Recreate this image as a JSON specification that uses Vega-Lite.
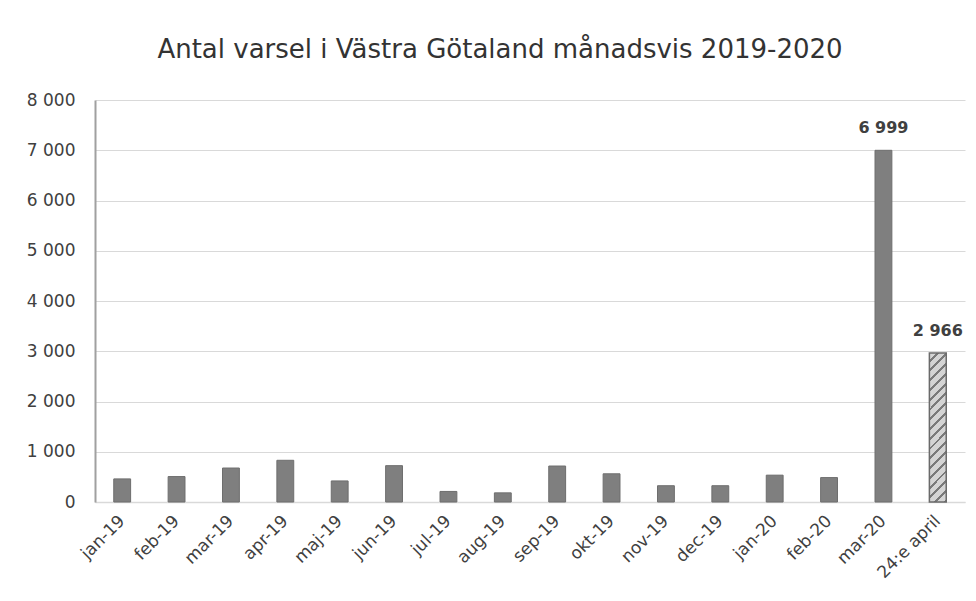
{
  "$schema": "https://vega.github.io/schema/vega-lite/v6.json",
  "autosize": "none",
  "padding": {"left": 95, "top": 100, "right": 11, "bottom": 99},
  "width": 870,
  "height": 402,
  "background": "white",
  "config": {
    "locale": {"number": {"decimal": ",", "thousands": " ", "grouping": [3], "currency": ["", " kr"]}},
    "font": "DejaVu Sans",
    "view": {"stroke": null}
  },
  "title": {
    "text": "Antal varsel i Västra Götaland månadsvis 2019-2020",
    "fontSize": 26,
    "fontWeight": "normal",
    "font": "DejaVu Sans",
    "color": "#333333",
    "anchor": "middle",
    "dx": -30,
    "offset": 28
  },
  "data": {
    "values": [
      {"month": "jan-19", "value": 460, "kind": "full"},
      {"month": "feb-19", "value": 506, "kind": "full"},
      {"month": "mar-19", "value": 676, "kind": "full"},
      {"month": "apr-19", "value": 830, "kind": "full"},
      {"month": "maj-19", "value": 419, "kind": "full"},
      {"month": "jun-19", "value": 723, "kind": "full"},
      {"month": "jul-19", "value": 210, "kind": "full"},
      {"month": "aug-19", "value": 182, "kind": "full"},
      {"month": "sep-19", "value": 716, "kind": "full"},
      {"month": "okt-19", "value": 561, "kind": "full"},
      {"month": "nov-19", "value": 324, "kind": "full"},
      {"month": "dec-19", "value": 324, "kind": "full"},
      {"month": "jan-20", "value": 534, "kind": "full"},
      {"month": "feb-20", "value": 486, "kind": "full"},
      {"month": "mar-20", "value": 6999, "kind": "full", "label": true},
      {"month": "24:e april", "value": 2966, "kind": "partial", "label": true}
    ]
  },
  "encoding": {
    "x": {
      "field": "month",
      "type": "nominal",
      "sort": null,
      "title": null,
      "scale": {"paddingInner": 0.69, "paddingOuter": 0.345},
      "axis": {
        "labelAngle": -45,
        "labelAlign": "right",
        "labelBaseline": "middle",
        "labelFontSize": 17,
        "labelColor": "#404040",
        "labelPadding": 16,
        "ticks": false,
        "domainColor": "#d9d9d9",
        "domainWidth": 1.5
      }
    },
    "y": {
      "field": "value",
      "type": "quantitative",
      "title": null,
      "scale": {"domain": [0, 8000], "nice": false},
      "axis": {
        "values": [0, 1000, 2000, 3000, 4000, 5000, 6000, 7000, 8000],
        "labelExpr": "format(datum.value, ',')",
        "labelFontSize": 17,
        "labelColor": "#404040",
        "labelPadding": 20,
        "ticks": false,
        "domainColor": "#a0a0a0",
        "domainWidth": 2,
        "gridColor": "#d9d9d9",
        "gridWidth": 1.2
      }
    }
  },
  "layer": [
    {
      "transform": [{"filter": "datum.kind === 'full'"}],
      "mark": {"type": "bar", "color": "#7f7f7f", "stroke": "#6e6e6e", "strokeWidth": 1}
    },
    {
      "transform": [{"filter": "datum.kind === 'partial'"}],
      "mark": {
        "type": "bar",
        "stroke": "#6a6a6a",
        "strokeWidth": 1.5,
        "fill": {
          "gradient": "linear",
          "x1": 0, "y1": 0, "x2": 0.1255, "y2": 1.0997,
          "stops": [
            {"offset": 0, "color": "#d4d4d4"}, {"offset": 0.041, "color": "#d4d4d4"}, {"offset": 0.041, "color": "#7a7a7a"}, {"offset": 0.0588, "color": "#7a7a7a"},
            {"offset": 0.0588, "color": "#d4d4d4"}, {"offset": 0.1, "color": "#d4d4d4"}, {"offset": 0.1, "color": "#7a7a7a"}, {"offset": 0.1176, "color": "#7a7a7a"},
            {"offset": 0.1176, "color": "#d4d4d4"}, {"offset": 0.1588, "color": "#d4d4d4"}, {"offset": 0.1588, "color": "#7a7a7a"}, {"offset": 0.1765, "color": "#7a7a7a"},
            {"offset": 0.1765, "color": "#d4d4d4"}, {"offset": 0.2177, "color": "#d4d4d4"}, {"offset": 0.2177, "color": "#7a7a7a"}, {"offset": 0.2353, "color": "#7a7a7a"},
            {"offset": 0.2353, "color": "#d4d4d4"}, {"offset": 0.2765, "color": "#d4d4d4"}, {"offset": 0.2765, "color": "#7a7a7a"}, {"offset": 0.2941, "color": "#7a7a7a"},
            {"offset": 0.2941, "color": "#d4d4d4"}, {"offset": 0.3353, "color": "#d4d4d4"}, {"offset": 0.3353, "color": "#7a7a7a"}, {"offset": 0.3529, "color": "#7a7a7a"},
            {"offset": 0.3529, "color": "#d4d4d4"}, {"offset": 0.3941, "color": "#d4d4d4"}, {"offset": 0.3941, "color": "#7a7a7a"}, {"offset": 0.4118, "color": "#7a7a7a"},
            {"offset": 0.4118, "color": "#d4d4d4"}, {"offset": 0.453, "color": "#d4d4d4"}, {"offset": 0.453, "color": "#7a7a7a"}, {"offset": 0.4706, "color": "#7a7a7a"},
            {"offset": 0.4706, "color": "#d4d4d4"}, {"offset": 0.5118, "color": "#d4d4d4"}, {"offset": 0.5118, "color": "#7a7a7a"}, {"offset": 0.5294, "color": "#7a7a7a"},
            {"offset": 0.5294, "color": "#d4d4d4"}, {"offset": 0.5706, "color": "#d4d4d4"}, {"offset": 0.5706, "color": "#7a7a7a"}, {"offset": 0.5882, "color": "#7a7a7a"},
            {"offset": 0.5882, "color": "#d4d4d4"}, {"offset": 0.6294, "color": "#d4d4d4"}, {"offset": 0.6294, "color": "#7a7a7a"}, {"offset": 0.6471, "color": "#7a7a7a"},
            {"offset": 0.6471, "color": "#d4d4d4"}, {"offset": 0.6883, "color": "#d4d4d4"}, {"offset": 0.6883, "color": "#7a7a7a"}, {"offset": 0.7059, "color": "#7a7a7a"},
            {"offset": 0.7059, "color": "#d4d4d4"}, {"offset": 0.7471, "color": "#d4d4d4"}, {"offset": 0.7471, "color": "#7a7a7a"}, {"offset": 0.7647, "color": "#7a7a7a"},
            {"offset": 0.7647, "color": "#d4d4d4"}, {"offset": 0.8059, "color": "#d4d4d4"}, {"offset": 0.8059, "color": "#7a7a7a"}, {"offset": 0.8235, "color": "#7a7a7a"},
            {"offset": 0.8235, "color": "#d4d4d4"}, {"offset": 0.8647, "color": "#d4d4d4"}, {"offset": 0.8647, "color": "#7a7a7a"}, {"offset": 0.8824, "color": "#7a7a7a"},
            {"offset": 0.8824, "color": "#d4d4d4"}, {"offset": 0.9236, "color": "#d4d4d4"}, {"offset": 0.9236, "color": "#7a7a7a"}, {"offset": 0.9412, "color": "#7a7a7a"},
            {"offset": 0.9412, "color": "#d4d4d4"}, {"offset": 0.9824, "color": "#d4d4d4"}, {"offset": 0.9824, "color": "#7a7a7a"}, {"offset": 1, "color": "#7a7a7a"}
          ]
        }
      }
    },
    {
      "transform": [{"filter": "datum.label === true"}],
      "mark": {"type": "text", "dy": -22, "fontSize": 16, "fontWeight": "bold", "color": "#404040"},
      "encoding": {
        "text": {"field": "value", "type": "quantitative", "format": ","}
      }
    }
  ]
}
